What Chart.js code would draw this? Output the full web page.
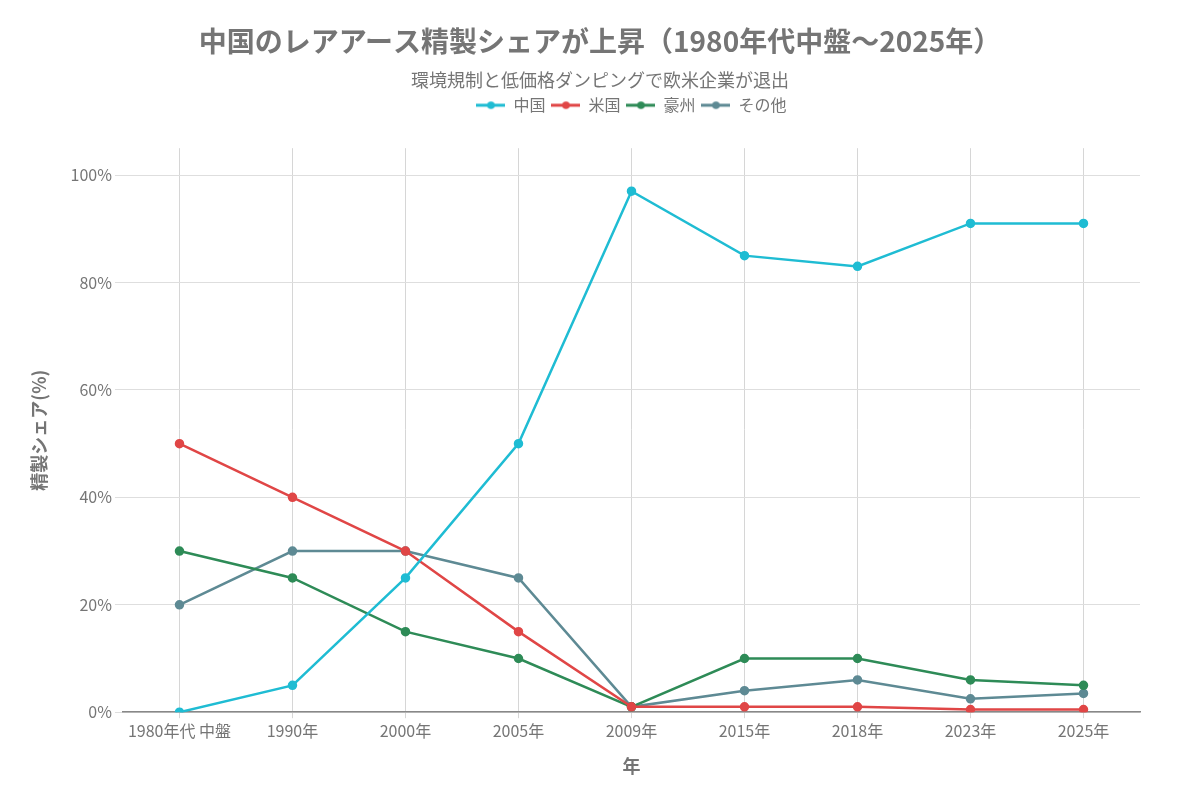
<!DOCTYPE html>
<html>
<head>
<meta charset="utf-8">
<script src="https://cdn.jsdelivr.net/npm/chart.js@4.4.1/dist/chart.umd.min.js"></script>
<style>
  html, body { margin: 0; padding: 0; background: #fff; }
  #wrap { width: 1200px; height: 800px; }
</style>
</head>
<body>
<div id="wrap"><canvas id="shareChart"></canvas></div>
<script>
var years = ['1980年代 中盤', '1990年', '2000年', '2005年', '2009年', '2015年', '2018年', '2023年', '2025年'];
var china = [0, 5, 25, 50, 97, 85, 83, 91, 91];
var usa = [50, 40, 30, 15, 1, 1, 1, 0.5, 0.5];
var australia = [30, 25, 15, 10, 1, 10, 10, 6, 5];
var others = [20, 30, 30, 25, 1, 4, 6, 2.5, 3.5];

var FONT = "'Noto Sans CJK JP', 'Noto Sans', sans-serif";
Chart.defaults.font.family = FONT;
Chart.defaults.color = '#757575';

// legend marker: short line with a dot in the middle
function lineDot(color) {
    var c = document.createElement('canvas');
    c.width = 29; c.height = 10;
    var g = c.getContext('2d');
    g.strokeStyle = color; g.lineWidth = 3;
    g.beginPath(); g.moveTo(0, 5); g.lineTo(29, 5); g.stroke();
    g.fillStyle = color;
    g.beginPath(); g.arc(14.5, 5, 3.8, 0, Math.PI * 2); g.fill();
    return c;
}

function series(label, data, color) {
    return {
        label: label,
        data: data,
        borderColor: color,
        backgroundColor: color,
        borderWidth: 2.5,
        pointRadius: 3.5,
        pointHoverRadius: 5,
        tension: 0,
        fill: false,
        legendMarker: lineDot(color)
    };
}

// extra room under the legend; titles centred on the page, legend on the plot
var layoutTweaks = {
    id: 'layoutTweaks',
    beforeInit: function (chart) {
        var fit = chart.legend.fit;
        chart.legend.fit = function () {
            fit.bind(chart.legend)();
            this.height += 25;
        };
    },
    beforeDraw: function (chart) {
        chart.boxes.forEach(function (box) {
            if (box.options && typeof box.options.text === 'string' && box !== chart.legend) {
                box.left = 0;
                box.right = chart.width;
                box.width = chart.width;
            }
        });
        var lg = chart.legend;
        lg.left = chart.chartArea.left;
        lg.right = chart.chartArea.right;
        lg.width = lg.right - lg.left;
    }
};

var ctx = document.getElementById('shareChart').getContext('2d');
new Chart(ctx, {
    type: 'line',
    data: {
        labels: years,
        datasets: [
            series('中国', china, '#1fbcd3'),
            series('米国', usa, '#e04646'),
            series('豪州', australia, '#2e8b57'),
            series('その他', others, '#5e8a94')
        ]
    },
    plugins: [layoutTweaks],
    options: {
        responsive: true,
        maintainAspectRatio: false,
        animation: false,
        layout: { padding: { left: 25, right: 60, top: 22, bottom: 19 } },
        plugins: {
            title: {
                display: true,
                text: '中国のレアアース精製シェアが上昇（1980年代中盤〜2025年）',
                font: { size: 28, weight: 'bold' },
                color: '#757575',
                padding: { top: 3, bottom: 11 }
            },
            subtitle: {
                display: true,
                text: '環境規制と低価格ダンピングで欧米企業が退出',
                font: { size: 18 },
                color: '#757575',
                padding: { bottom: 0 }
            },
            legend: {
                position: 'top',
                labels: {
                    usePointStyle: true,
                    pointStyleWidth: 29,
                    padding: 6,
                    font: { size: 16 },
                    color: '#757575',
                    generateLabels: function (chart) {
                        return chart.data.datasets.map(function (ds, i) {
                            return {
                                text: ds.label,
                                pointStyle: ds.legendMarker,
                                fillStyle: ds.borderColor,
                                strokeStyle: ds.borderColor,
                                fontColor: '#757575',
                                lineWidth: 0,
                                hidden: !chart.isDatasetVisible(i),
                                datasetIndex: i
                            };
                        });
                    }
                }
            },
            tooltip: { enabled: false }
        },
        scales: {
            x: {
                offset: true,
                grid: { color: '#d6d6d6', drawTicks: true, tickLength: 6 },
                border: { color: '#888', width: 1.5 },
                ticks: { font: { size: 16 }, color: '#757575', maxRotation: 0 },
                title: {
                    display: true,
                    text: '年',
                    font: { size: 18, weight: 'bold' },
                    color: '#757575',
                    padding: { top: 12 }
                }
            },
            y: {
                min: 0,
                max: 105,
                grid: { color: '#dedede', tickLength: 8 },
                border: { display: false },
                ticks: {
                    stepSize: 20,
                    font: { size: 16 },
                    color: '#757575',
                    callback: function (v) { return v % 20 === 0 ? v + '%' : null; }
                },
                title: {
                    display: true,
                    text: '精製シェア(%)',
                    font: { size: 18, weight: 'bold' },
                    color: '#757575',
                    padding: { top: 3, bottom: 18 }
                }
            }
        }
    }
});
</script>
</body>
</html>
